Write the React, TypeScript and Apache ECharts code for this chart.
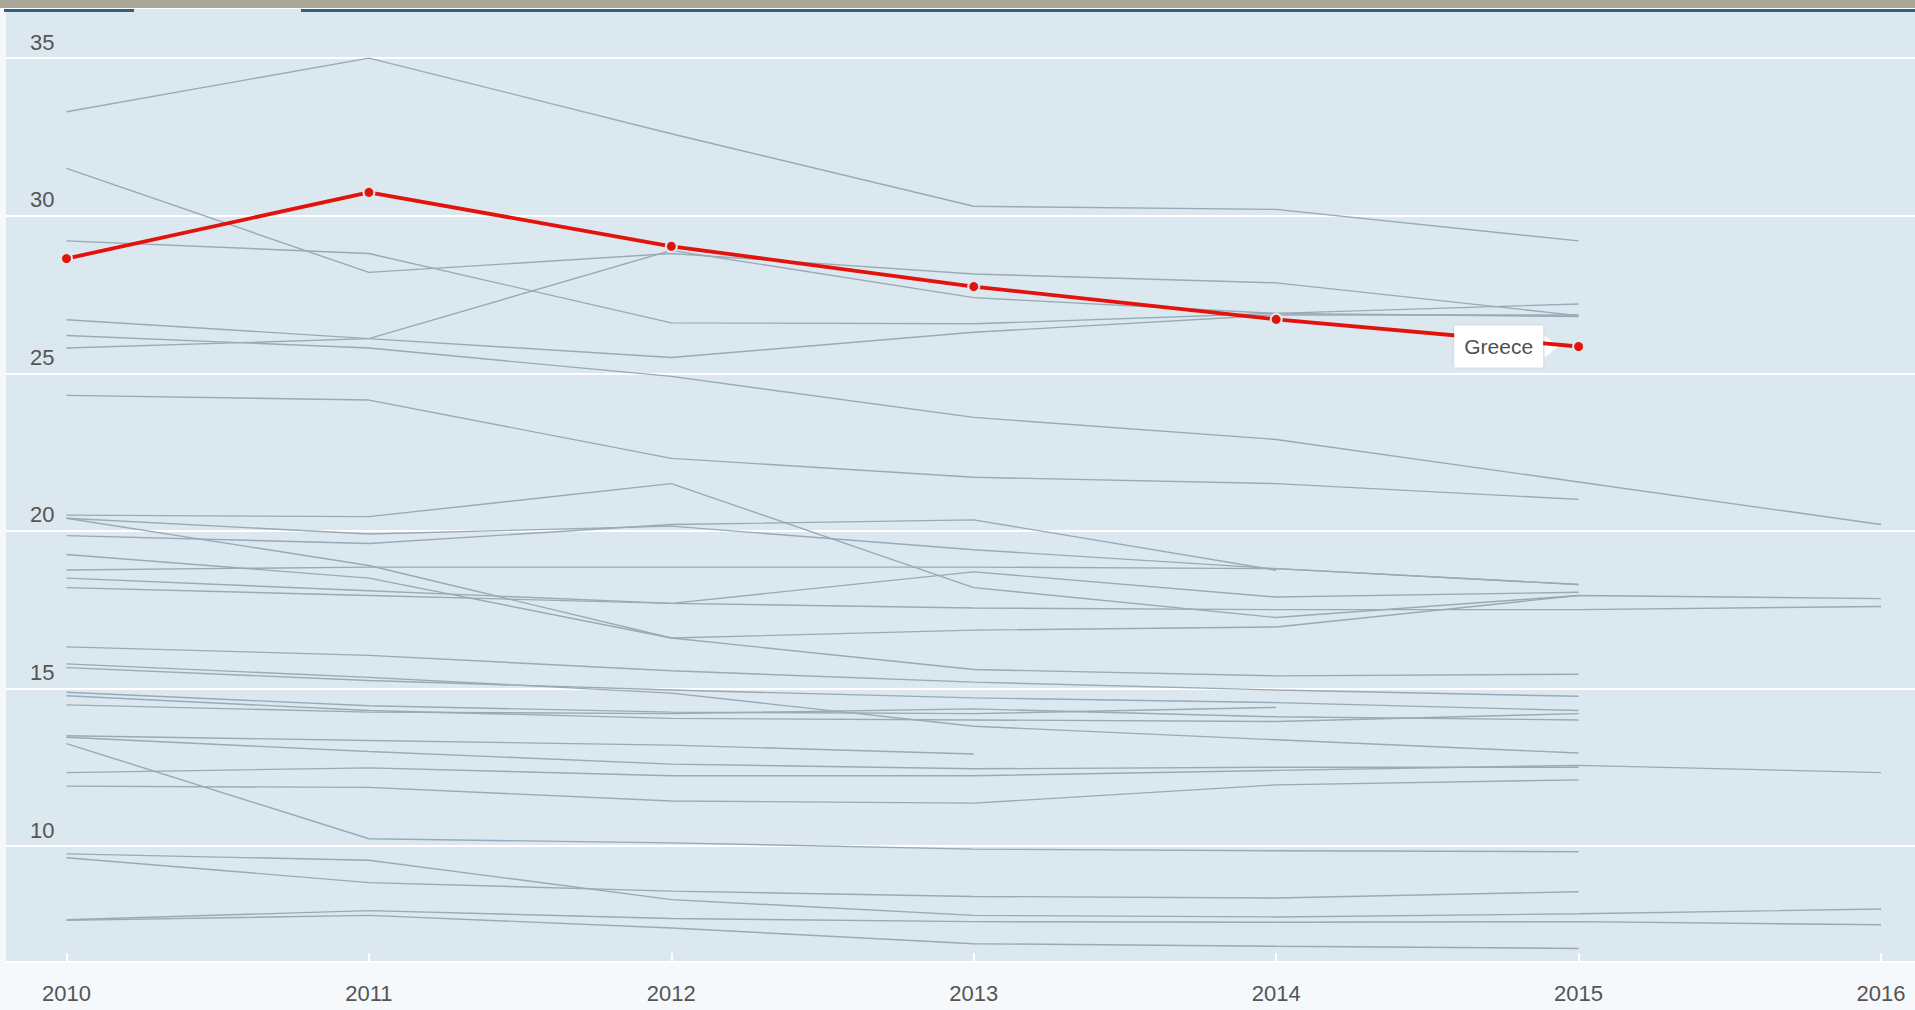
import React, { useEffect, useRef } from "react";
import * as echarts from "echarts";

const years = ["2010", "2011", "2012", "2013", "2014", "2015", "2016"];

const greece = [28.64, 30.74, 29.03, 27.75, 26.71, 25.85];

const line01 = [33.3, 35.0, 32.6, 30.3, 30.2, 29.2, null];
const line02 = [31.5, 28.2, 28.8, 28.15, 27.87, 26.83, null];
const line03 = [29.2, 28.8, 26.6, 26.57, 26.9, 26.8, null];
const line04 = [26.7, 26.1, 25.5, 26.3, 26.85, 26.85, null];
const line05 = [26.2, 25.8, 24.9, 23.6, 22.9, 21.55, 20.2];
const line06 = [25.8, 26.1, 28.9, 27.4, 26.9, 27.2, null];
const line07 = [24.3, 24.15, 22.3, 21.7, 21.5, 21.0, null];
const line08 = [20.5, 20.45, 21.5, 18.2, 17.25, 17.95, null];
const line09 = [20.4, 19.9, 20.15, 19.4, 18.8, 18.3, null];
const line10 = [20.4, 18.9, 16.6, 15.6, 15.4, 15.45, null];
const line11 = [19.85, 19.6, 20.2, 20.35, 18.75, null, null];
const line12 = [19.25, 18.5, 16.6, 16.85, 16.95, 17.95, 17.85];
const line13 = [18.76, 18.85, 18.85, 18.85, 18.8, 18.3, null];
const line14 = [18.5, 18.1, 17.7, 18.7, 17.9, 18.05, null];
const line15 = [18.2, 17.95, 17.7, 17.55, 17.5, 17.5, 17.6];
const line16 = [16.32, 16.05, 15.56, 15.2, 14.95, 14.75, null];
const line17 = [15.78, 15.35, 14.85, 13.8, 13.37, 12.95, null];
const line18 = [15.66, 15.25, 14.95, 14.7, 14.55, 14.3, null];
const line19 = [14.88, 14.45, 14.25, 14.2, 14.4, null, null];
const line20 = [14.77, 14.3, 14.05, 14.0, 13.95, 14.2, null];
const line21 = [14.48, 14.25, 14.2, 14.35, 14.1, 14.0, null];
const line22 = [13.5, 13.35, 13.2, 12.92, null, null, null];
const line23 = [13.45, 13.0, 12.6, 12.45, 12.5, 12.5, null];
const line24 = [13.25, 10.23, 10.1, 9.9, 9.85, 9.82, null];
const line25 = [12.33, 12.48, 12.23, 12.23, 12.4, 12.56, 12.33];
const line26 = [11.9, 11.86, 11.43, 11.36, 11.94, 12.1, null];
const line27 = [9.75, 9.55, 8.3, 7.8, 7.75, 7.85, 8.0];
const line28 = [9.63, 8.84, 8.57, 8.4, 8.35, 8.55, null];
const line29 = [7.66, 7.95, 7.7, 7.6, 7.58, 7.6, 7.5];
const line30 = [7.64, 7.8, 7.4, 6.9, 6.82, 6.75, null];

const others = [
  line01, line02, line03, line04, line05, line06, line07, line08, line09, line10,
  line11, line12, line13, line14, line15, line16, line17, line18, line19, line20,
  line21, line22, line23, line24, line25, line26, line27, line28, line29, line30,
];

const yMin = 6.32;
const yMax = 36.59;

export default function App() {
  const ref = useRef<HTMLDivElement>(null);

  useEffect(() => {
    const chart = echarts.init(ref.current as HTMLDivElement, null, { renderer: "svg" });
    const font = '"Liberation Sans Narrow", "Liberation Sans", Arial, sans-serif';
    const plotBg = "#dbe8ef";
    const red = "#e3120b";

    const greySeries = others.map((arr, i) => ({
      name: "c" + (i + 1),
      type: "line",
      xAxisIndex: 1,
      yAxisIndex: 1,
      data: arr,
      symbol: "none",
      silent: true,
      connectNulls: false,
      z: 2,
      lineStyle: { color: "#98aab5", width: 1.4 },
    }));

    const last = greece.length - 1;
    const greeceData = greece.map((v, i) =>
      i === last
        ? {
            value: v,
            label: {
              show: true,
              position: "left",
              distance: 29,
              formatter: "Greece",
              color: "#505050",
              fontFamily: font,
              fontSize: 21,
              backgroundColor: "#ffffff",
              padding: [11, 10, 10, 10],
              borderRadius: 1,
              shadowBlur: 3,
              shadowColor: "rgba(0,0,0,0.12)",
            },
          }
        : v
    );

    chart.setOption({
      animation: false,
      backgroundColor: "#f6f9fb",
      grid: [
        { left: 6, right: 0, top: 8, bottom: 48, show: true, backgroundColor: plotBg, borderWidth: 0 },
        { left: 66.5, right: 34, top: 8, bottom: 48 },
      ],
      xAxis: [
        { type: "value", gridIndex: 0, min: 0, max: 1, show: false },
        {
          type: "category",
          gridIndex: 1,
          data: years,
          boundaryGap: false,
          axisLine: { show: false },
          axisTick: { show: true, inside: true, length: 9, lineStyle: { color: "#ffffff", width: 2 } },
          axisLabel: { color: "#555555", fontFamily: font, fontSize: 22, margin: 20 },
          splitLine: { show: false },
        },
      ],
      yAxis: [
        {
          type: "value",
          gridIndex: 0,
          min: yMin,
          max: yMax,
          splitNumber: 6,
          axisLine: { show: false },
          axisTick: { show: false },
          splitLine: { show: true, lineStyle: { color: "#ffffff", width: 2 } },
          axisLabel: {
            inside: true,
            margin: 24,
            verticalAlign: "bottom",
            padding: [0, 0, 5, 0],
            color: "#555555",
            fontFamily: font,
            fontSize: 22,
            showMinLabel: false,
            showMaxLabel: false,
          },
        },
        { type: "value", gridIndex: 1, min: yMin, max: yMax, show: false },
      ],
      graphic: [
        { type: "rect", left: 0, top: 0, shape: { width: 1915, height: 8 }, style: { fill: "#a9a898" }, z: 10 },
        { type: "rect", left: 4, top: 9, shape: { width: 130, height: 3 }, style: { fill: "#33607a" }, z: 10 },
        { type: "rect", left: 301, top: 9, shape: { width: 1614, height: 3 }, style: { fill: "#33607a" }, z: 10 },
      ],
      series: [
        ...greySeries,
        {
          name: "Greece",
          type: "line",
          xAxisIndex: 1,
          yAxisIndex: 1,
          data: greeceData,
          z: 5,
          symbol: "circle",
          symbolSize: 11,
          showSymbol: true,
          lineStyle: { color: red, width: 3.8 },
          itemStyle: { color: red, borderColor: plotBg, borderWidth: 2 },
          markPoint: {
            silent: true,
            symbol: "triangle",
            symbolSize: [22, 14],
            symbolRotate: -90,
            symbolOffset: [-27, 0],
            itemStyle: { color: "#ffffff" },
            label: { show: false },
            data: [{ coord: [years[last], greece[last]] }],
          },
        },
      ],
    });

    return () => chart.dispose();
  }, []);

  return <div ref={ref} style={{ position: "fixed", left: 0, top: 0, width: 1915, height: 1010 }} />;
}
